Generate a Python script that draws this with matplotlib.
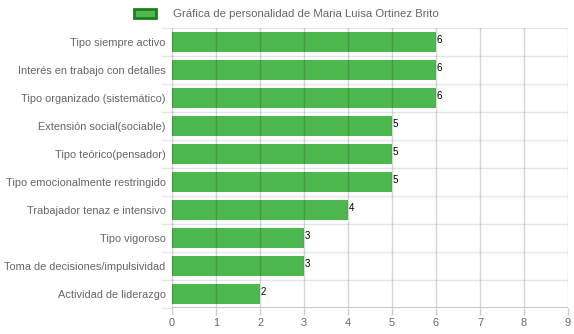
import matplotlib.pyplot as plt
from matplotlib.patches import Patch

categorias = [
    'Tipo siempre activo',
    'Interés en trabajo con detalles',
    'Tipo organizado (sistemático)',
    'Extensión social(sociable)',
    'Tipo teórico(pensador)',
    'Tipo emocionalmente restringido',
    'Trabajador tenaz e intensivo',
    'Tipo vigoroso',
    'Toma de decisiones/impulsividad',
    'Actividad de liderazgo',
]
valores = [6, 6, 6, 5, 5, 5, 4, 3, 3, 2]
titulo = 'Gráfica de personalidad de Maria Luisa Ortinez Brito'

plt.rcParams['font.family'] = ['Liberation Sans', 'DejaVu Sans']

fig = plt.figure(figsize=(5.74, 3.34), dpi=100)
ax = fig.add_axes([172/574, 1 - 308/334, 396/574, 280/334])

verde = '#4db84d'
pos = list(range(len(categorias)))
ax.barh(pos, valores, height=0.72, color=verde, zorder=2)

for p, v in zip(pos, valores):
    ax.text(v + 0.02, p - 0.08, str(v), fontsize=7, color='black', va='center', ha='left', zorder=4)

ax.set_xlim(0, 9)
ax.set_ylim(len(categorias) - 0.5, -0.5)
ax.set_xticks(range(10))
ax.set_yticks(pos)
ax.set_yticklabels(categorias)

# grid lines
for x in range(10):
    ax.axvline(x, color='#000000', alpha=0.16, lw=1, zorder=3)
for b in range(len(categorias) + 1):
    ax.axhline(b - 0.5, color='#e6e6e6', lw=1, zorder=1)

for s in ax.spines.values():
    s.set_visible(False)
ax.axhline(len(categorias) - 0.5, color='#c8c8c8', lw=1.5, zorder=3)

ax.tick_params(axis='x', colors='#666666', labelsize=7.9, length=5, width=1, pad=2)
ax.tick_params(axis='x', color='#cccccc')
ax.tick_params(axis='y', colors='#666666', labelsize=7.9, length=0, pad=4.5)

# category boundary ticks on the left
for b in range(len(categorias) + 1):
    ax.plot([-0.22, 0], [b - 0.5, b - 0.5], color='#e6e6e6', lw=1, clip_on=False, zorder=1)

handle = Patch(facecolor=verde, edgecolor='#1b7f1b', linewidth=2)
fig.legend([handle], [titulo], loc='upper center', bbox_to_anchor=(0.499, 1.005), frameon=False,
           fontsize=8.2, labelcolor='#666666', handlelength=2.0, handleheight=0.9, handletextpad=1.5)

fig.savefig('out.png', dpi=100)
